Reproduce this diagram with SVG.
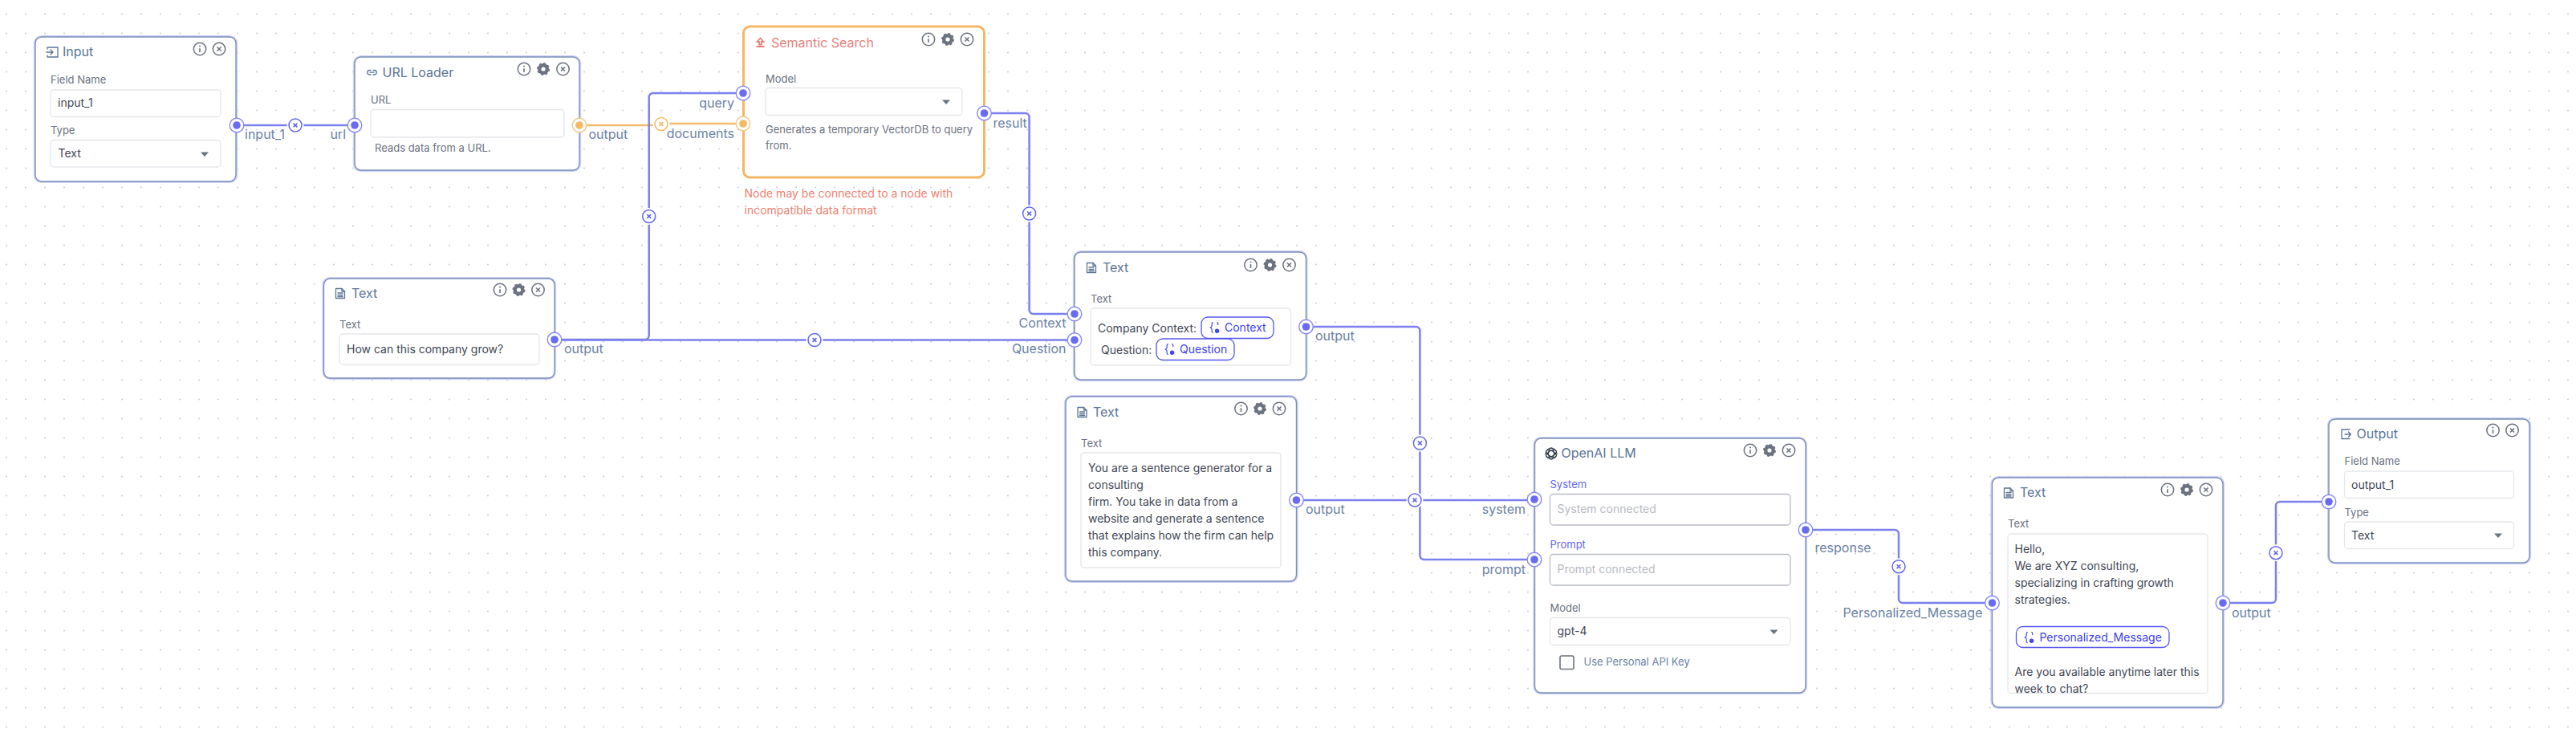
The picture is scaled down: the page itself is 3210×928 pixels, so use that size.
<svg xmlns="http://www.w3.org/2000/svg" width="3210" height="928" viewBox="0 0 3210 928">
<style>
text{font-family:Inter,"Noto Sans","Liberation Sans",sans-serif}
.bg{fill:#fff}
.halo{fill:#fff;stroke:#cdd0f7;stroke-width:4.2}
.card{fill:#fff;stroke:#7b8fb8;stroke-width:1.4}
.card.w{stroke:#f4b766;stroke-width:3}
.title{font-size:16px;fill:#5b7596;font-weight:400}
.title.w{fill:#e77f7c}
.lab{font-size:13px;fill:#6b7280}
.val{font-size:14px;fill:#3f4755}
.desc{font-size:13px;fill:#6b7280}
.port{font-size:16px;fill:#6b82a3}
.warn{font-size:14px;fill:#ee8272}
.box{fill:#fff;stroke:#e5e7eb;stroke-width:1.3}
.box2{fill:#fff;stroke:#b9bcc6;stroke-width:1.3}
.ph{font-size:14px;fill:#b7bac2}
.sys{font-size:13px;fill:#6366f1;font-weight:400}
.chip{fill:#fff;stroke:#5557ee;stroke-width:1.3}
.chipt{font-size:14px;fill:#3e40ee;font-weight:400}
.ed{fill:none;stroke:#7c80ef;stroke-width:2.5}
.ed.o{stroke:#f4bc6c}
.ic{fill:none;stroke:#5b7596;stroke-width:1.3;stroke-linecap:round;stroke-linejoin:round}
</style>
<defs>
<pattern id="dots" width="24" height="24" patternUnits="userSpaceOnUse"><circle cx="8" cy="17.500" r="0.9" fill="#c2c7d2"/></pattern>
<g id="info"><circle r="7.700" fill="#fff" stroke="#6b7280" stroke-width="1.500"/><path d="M0-.8V4" stroke="#6b7280" stroke-width="1.600" fill="none"/><circle cy="-3.400" r="1" fill="#6b7280"/></g>
<g id="close"><circle r="7.700" fill="#fff" stroke="#6b7280" stroke-width="1.500"/><path d="M-2.500-2.500L2.500 2.500M2.500-2.500L-2.500 2.500" stroke="#6b7280" stroke-width="1.600" fill="none"/></g>
<g id="gear"><circle r="4.800" fill="none" stroke="#6b7280" stroke-width="4.400"/><circle r="7" fill="none" stroke="#6b7280" stroke-width="2" stroke-dasharray="2.800 2.700"/></g>
<polygon id="tri" points="-5,-2.600 5,-2.600 0,3" fill="#6b7280"/>
<g id="doc" class="ic"><path d="M-5.500-6H2L5.500-2.500V6H-5.500Z"/><path d="M2-6V-2.500H5.500M-3-.5H3M-3 2H3M-3 4H3"/></g>
<g id="hb"><circle r="8.800" fill="#fff" stroke="#8689f3" stroke-width="1.400"/><circle r="4.800" fill="#696cf1"/></g>
<g id="ho"><circle r="8.800" fill="#fff" stroke="#f6c885" stroke-width="1.400"/><circle r="4.800" fill="#f4b860"/></g>
<g id="xb"><circle r="10.500" fill="#fff"/><circle r="8" fill="#fff" stroke="#6366f1" stroke-width="1.500"/><path d="M-2.400-2.400L2.400 2.400M2.400-2.400L-2.400 2.400" stroke="#6366f1" stroke-width="1.600" fill="none"/></g>
<g id="xo"><circle r="10.500" fill="#fff"/><circle r="8" fill="#fff" stroke="#f4b860" stroke-width="1.500"/><path d="M-2.400-2.400L2.400 2.400M2.400-2.400L-2.400 2.400" stroke="#f4b860" stroke-width="1.600" fill="none"/></g>
<g id="var"><path d="M-2.200-6.500C-4.200-6.500-3.800-4.500-3.800-3C-3.800-1.200-4.200-.6-5.600 0C-4.200.6-3.800 1.200-3.800 3C-3.800 4.500-4.200 6.500-2.200 6.500M2.200-6.500C4-6.500 3.800-4.500 3.800-3" fill="none" stroke="#4446ee" stroke-width="1.200"/><circle cx="2.600" cy="4.200" r="2.700" fill="#4446ee"/></g>
<clipPath id="clipT"><rect x="2502" y="665" width="249" height="198"/></clipPath>
</defs>
<rect class="bg" width="3210" height="928"/>
<rect width="3210" height="928" fill="url(#dots)"/>

<g id="connectors">
<path class="ed" d="M295 156H442"/>
<path class="ed o" d="M722 156H824V154H926"/>
<path class="ed" d="M691 423H804A5 5 0 0 0 808.700 418V121A5 5 0 0 1 814 116H926"/>
<path class="ed" d="M691 423.500H1339"/>
<path class="ed" d="M1226.500 141H1277.600A5 5 0 0 1 1282.600 146V386A5 5 0 0 0 1287.600 391H1339"/>
<path class="ed" d="M1627.500 407H1764.400A5 5 0 0 1 1769.400 412V692A5 5 0 0 0 1774.400 697H1912"/>
<path class="ed" d="M1615.500 623H1912"/>
<path class="ed" d="M2250 660H2361A5 5 0 0 1 2366 665V746A5 5 0 0 0 2371 751H2482.500"/>
<path class="ed" d="M2770 751H2831A5 5 0 0 0 2836 746V630A5 5 0 0 1 2841 625H2902"/>
<use href="#xb" x="368" y="156"/>
<use href="#xo" x="824" y="154.500"/>
<use href="#xb" x="808.700" y="269.500"/>
<use href="#xb" x="1015" y="423.500"/>
<use href="#xb" x="1282.600" y="266"/>
<use href="#xb" x="1769.400" y="552"/>
<use href="#xb" x="1763" y="623"/>
<use href="#xb" x="2366" y="705.700"/>
<use href="#xb" x="2836" y="688.700"/>
</g>

<g id="node-input">
<rect class="halo" x="44" y="46" width="250" height="180" rx="8"/><rect class="card" x="44" y="46" width="250" height="180" rx="8"/>
<path class="ic" d="M59 61V59H72V71H59V69M58 65H66M63 62L66 65L63 68"/>
<text class="title" x="78" y="70">Input</text>
<use href="#info" x="249" y="61"/><use href="#close" x="273" y="61"/>
<text class="lab" x="63" y="104">Field Name</text>
<rect class="box" x="63" y="112" width="212" height="33.500" rx="4"/>
<text class="val" x="72" y="133">input_1</text>
<text class="lab" x="63" y="167">Type</text>
<rect class="box" x="63" y="174.500" width="212" height="33.500" rx="4"/>
<text class="val" x="72.500" y="196">Text</text>
<use href="#tri" x="255" y="192"/>
<use href="#hb" x="295" y="156"/>
<text class="port" x="305" y="173">input_1</text>
</g>

<g id="node-url">
<rect class="halo" x="442" y="71" width="280" height="141" rx="8"/><rect class="card" x="442" y="71" width="280" height="141" rx="8"/>
<path class="ic" d="M462 87.500H460.500A2.500 2.500 0 0 0 460.500 93H462M465 87.500H466.500A2.500 2.500 0 0 1 466.500 93H465M461 90.200H466"/>
<text class="title" x="476.500" y="96">URL Loader</text>
<use href="#info" x="653" y="86"/><use href="#gear" x="677" y="86"/><use href="#close" x="701.500" y="86"/>
<text class="lab" x="462" y="129">URL</text>
<rect class="box" x="462" y="136.500" width="241" height="34.500" rx="4"/>
<text class="desc" x="467" y="189">Reads data from a URL.</text>
<use href="#hb" x="442" y="156"/>
<use href="#ho" x="722" y="156"/>
<text class="port" x="733.500" y="173">output</text>
<text class="port" x="431" y="173" text-anchor="end">url</text>
</g>

<g id="node-semantic">
<rect class="card w" x="926.500" y="33" width="300" height="188" rx="8"/>
<path d="M947.500 47.500L951.500 52H949V55.500H946V52H943.500ZM942.500 58H952.500" fill="none" stroke="#e77f7c" stroke-width="1.800"/>
<text class="title w" x="961" y="59">Semantic Search</text>
<use href="#info" x="1157" y="49"/><use href="#gear" x="1181" y="49"/><use href="#close" x="1205" y="49"/>
<text class="lab" x="954" y="103">Model</text>
<rect class="box" x="954" y="109.500" width="245" height="34" rx="4"/>
<use href="#tri" x="1179" y="127"/>
<text class="desc" x="954" y="166">Generates a temporary VectorDB to query</text>
<text class="desc" x="954" y="186">from.</text>
<use href="#hb" x="926" y="116"/>
<use href="#ho" x="926" y="154"/>
<use href="#hb" x="1226.500" y="141"/>
<text class="port" x="915" y="134" text-anchor="end">query</text>
<text class="port" x="915" y="172" text-anchor="end">documents</text>
<text class="port" x="1237.500" y="159">result</text>
<text class="warn" x="927.500" y="246">Node may be connected to a node with</text>
<text class="warn" x="927.500" y="267">incompatible data format</text>
</g>

<g id="node-text-question">
<rect class="halo" x="403.500" y="347" width="287.500" height="124" rx="8"/><rect class="card" x="403.500" y="347" width="287.500" height="124" rx="8"/>
<use href="#doc" x="424" y="365.500"/>
<text class="title" x="438" y="371">Text</text>
<use href="#info" x="623" y="361"/><use href="#gear" x="646.500" y="361"/><use href="#close" x="670.500" y="361"/>
<text class="lab" x="423" y="409">Text</text>
<rect class="box" x="423" y="416" width="249" height="38" rx="4"/>
<text class="val" x="432" y="440">How can this company grow?</text>
<use href="#hb" x="691" y="423"/>
<text class="port" x="703" y="440">output</text>
</g>

<g id="node-text-context">
<rect class="halo" x="1339" y="314" width="288.500" height="159" rx="8"/><rect class="card" x="1339" y="314" width="288.500" height="159" rx="8"/>
<use href="#doc" x="1360" y="333.500"/>
<text class="title" x="1374" y="339">Text</text>
<use href="#info" x="1558.500" y="330"/><use href="#gear" x="1582.500" y="330"/><use href="#close" x="1606.500" y="330"/>
<text class="lab" x="1359" y="377">Text</text>
<rect class="box" x="1359" y="384" width="249.500" height="71" rx="4"/>
<text class="val" x="1368" y="414">Company Context:</text>
<rect class="chip" x="1497" y="395" width="90" height="26.500" rx="8"/>
<use href="#var" x="1514" y="408"/>
<text class="chipt" x="1526" y="413">Context</text>
<text class="val" x="1372" y="441">Question:</text>
<rect class="chip" x="1441" y="422" width="97" height="26.500" rx="8"/>
<use href="#var" x="1458" y="435"/>
<text class="chipt" x="1470" y="440">Question</text>
<use href="#hb" x="1339" y="391"/>
<use href="#hb" x="1339" y="423.500"/>
<use href="#hb" x="1627.500" y="407"/>
<text class="port" x="1328.500" y="408" text-anchor="end">Context</text>
<text class="port" x="1328.500" y="440" text-anchor="end">Question</text>
<text class="port" x="1639" y="424">output</text>
</g>

<g id="node-text-system">
<rect class="halo" x="1328" y="494" width="287.500" height="230" rx="8"/><rect class="card" x="1328" y="494" width="287.500" height="230" rx="8"/>
<use href="#doc" x="1348.500" y="513.500"/>
<text class="title" x="1362" y="519">Text</text>
<use href="#info" x="1546.500" y="509"/><use href="#gear" x="1570" y="509"/><use href="#close" x="1594" y="509"/>
<text class="lab" x="1347" y="557">Text</text>
<rect class="box" x="1347" y="564" width="249" height="143" rx="4"/>
<text class="val" x="1356" y="588">You are a sentence generator for a</text>
<text class="val" x="1356" y="609">consulting</text>
<text class="val" x="1356" y="630">firm. You take in data from a</text>
<text class="val" x="1356" y="651">website and generate a sentence</text>
<text class="val" x="1356" y="672">that explains how the firm can help</text>
<text class="val" x="1356" y="693">this company.</text>
<use href="#hb" x="1615.500" y="623"/>
<text class="port" x="1627" y="640">output</text>
</g>

<g id="node-llm">
<rect class="halo" x="1912.500" y="546" width="337.500" height="317" rx="8"/><rect class="card" x="1912.500" y="546" width="337.500" height="317" rx="8"/>
<g fill="none" stroke="#1f2937" stroke-width="1"><circle cx="1933" cy="565" r="7"/><ellipse cx="1933" cy="565" rx="7" ry="3.400" transform="rotate(30 1933 565)"/><ellipse cx="1933" cy="565" rx="7" ry="3.400" transform="rotate(90 1933 565)"/><ellipse cx="1933" cy="565" rx="7" ry="3.400" transform="rotate(150 1933 565)"/></g>
<text class="title" x="1945.500" y="570">OpenAI LLM</text>
<use href="#info" x="2181" y="561"/><use href="#gear" x="2205" y="561"/><use href="#close" x="2229" y="561"/>
<text class="sys" x="1931.500" y="608">System</text>
<rect class="box2" x="1931.500" y="615.500" width="299.500" height="38.500" rx="4"/>
<text class="ph" x="1940.500" y="639">System connected</text>
<text class="sys" x="1931.500" y="683">Prompt</text>
<rect class="box2" x="1931.500" y="690.500" width="299.500" height="38.500" rx="4"/>
<text class="ph" x="1940.500" y="714">Prompt connected</text>
<text class="lab" x="1931.500" y="762">Model</text>
<rect class="box" x="1931.500" y="769.500" width="299.500" height="34" rx="4"/>
<text class="val" x="1940.500" y="791">gpt-4</text>
<use href="#tri" x="2210.500" y="787"/>
<rect x="1944" y="817" width="17" height="16.500" rx="2" fill="#fff" stroke="#6b7280" stroke-width="1.600"/>
<text x="1973.500" y="829" font-size="13" fill="#6b82a3">Use Personal API Key</text>
<use href="#hb" x="1912" y="622"/>
<use href="#hb" x="1912" y="697"/>
<use href="#hb" x="2250" y="660"/>
<text class="port" x="1901" y="640" text-anchor="end">system</text>
<text class="port" x="1901" y="715" text-anchor="end">prompt</text>
<text class="port" x="2261.500" y="688">response</text>
</g>

<g id="node-text-message">
<rect class="halo" x="2482.500" y="595" width="287.500" height="286" rx="8"/><rect class="card" x="2482.500" y="595" width="287.500" height="286" rx="8"/>
<use href="#doc" x="2503" y="614"/>
<text class="title" x="2517" y="619">Text</text>
<use href="#info" x="2701" y="610"/><use href="#gear" x="2725" y="610"/><use href="#close" x="2749" y="610"/>
<text class="lab" x="2502" y="657">Text</text>
<rect class="box" x="2502" y="665" width="249" height="198.500" rx="4"/>
<g clip-path="url(#clipT)">
<text class="val" x="2510.500" y="689">Hello,</text>
<text class="val" x="2510.500" y="710">We are XYZ consulting,</text>
<text class="val" x="2510.500" y="731">specializing in crafting growth</text>
<text class="val" x="2510.500" y="752">strategies.</text>
<rect class="chip" x="2512.500" y="780.500" width="190.500" height="26" rx="8"/>
<use href="#var" x="2529" y="794"/>
<text class="chipt" x="2541.500" y="799">Personalized_Message</text>
<text class="val" x="2510.500" y="842">Are you available anytime later this</text>
<text class="val" x="2510.500" y="863">week to chat?</text>
</g>
<use href="#hb" x="2482.500" y="751"/>
<use href="#hb" x="2770" y="751"/>
<text class="port" x="2470.500" y="769" text-anchor="end">Personalized_Message</text>
<text class="port" x="2781" y="769">output</text>
</g>

<g id="node-output">
<rect class="halo" x="2902" y="522" width="250" height="179" rx="8"/><rect class="card" x="2902" y="522" width="250" height="179" rx="8"/>
<path class="ic" d="M2928 535H2918V546.500H2928M2922 541H2929.500M2926.500 538L2929.500 541L2926.500 544"/>
<text class="title" x="2936.500" y="546">Output</text>
<use href="#info" x="3106.500" y="536"/><use href="#close" x="3130.500" y="536"/>
<text class="lab" x="2921.500" y="579">Field Name</text>
<rect class="box" x="2921.500" y="587" width="211" height="33.500" rx="4"/>
<text class="val" x="2930" y="609">output_1</text>
<text class="lab" x="2921.500" y="643">Type</text>
<rect class="box" x="2921.500" y="650" width="211" height="33.500" rx="4"/>
<text class="val" x="2930" y="672">Text</text>
<use href="#tri" x="3113" y="667"/>
<use href="#hb" x="2902" y="625"/>
</g>
</svg>
